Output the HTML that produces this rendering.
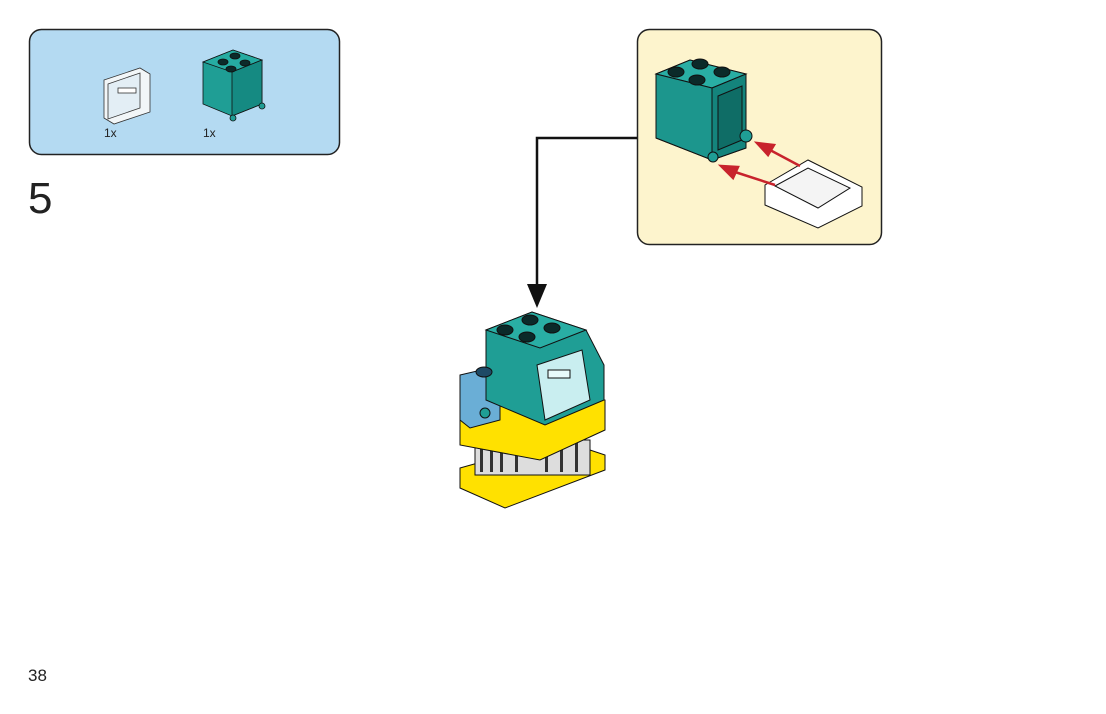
<!DOCTYPE html>
<html><head><meta charset="utf-8"><style>
html,body{margin:0;padding:0;background:#fff;}
body{width:1106px;height:709px;overflow:hidden;font-family:"Liberation Sans",sans-serif;}
</style></head><body>
<svg width="1106" height="709" viewBox="0 0 1106 709" xmlns="http://www.w3.org/2000/svg">
<rect x="29.5" y="29.5" width="310" height="125" rx="12" fill="#b4daf2" stroke="#222" stroke-width="1.5"/>
<g stroke="#333" stroke-width="0.8">
<polygon points="104,80 140,68 150,74 150,112 114,124 104,118" fill="#f2f6f8"/>
<polygon points="108,84 140,73 140,108 108,119" fill="#e3eef5"/>
<rect x="118" y="88" width="18" height="5" fill="#fff"/>
</g>
<g stroke="#111" stroke-width="0.8">
<polygon points="203,62 233,50 262,60 262,104 232,116 203,104" fill="#1f9e95"/>
<polygon points="203,62 233,50 262,60 232,72" fill="#26aca2"/>
<polygon points="232,72 262,60 262,104 232,116" fill="#158a82"/>
<ellipse cx="223" cy="62" rx="5" ry="3" fill="#0c2b2a"/>
<ellipse cx="235" cy="56" rx="5" ry="3" fill="#0c2b2a"/>
<ellipse cx="231" cy="69" rx="5" ry="3" fill="#0c2b2a"/>
<ellipse cx="245" cy="63" rx="5" ry="3" fill="#0c2b2a"/>
<circle cx="233" cy="118" r="3" fill="#1f9e95"/>
<circle cx="262" cy="106" r="3" fill="#1f9e95"/>
</g>
<text x="104" y="137" font-size="12" fill="#222">1x</text>
<text x="203" y="137" font-size="12" fill="#222">1x</text>
<text x="28" y="213" font-size="44" fill="#222">5</text>
<text x="28" y="681" font-size="17" fill="#222">38</text>
<rect x="637.5" y="29.5" width="244" height="215" rx="12" fill="#fdf4cd" stroke="#222" stroke-width="1.5"/>
<g stroke="#111" stroke-width="1">
<polygon points="656,74 690,60 746,74 746,148 712,160 656,138" fill="#1f9e95"/>
<polygon points="656,74 690,60 746,74 712,88" fill="#29aea4"/>
<polygon points="656,74 712,88 712,160 656,138" fill="#1c968d"/>
<polygon points="712,88 746,74 746,148 712,160" fill="#14847c"/>
<polygon points="718,96 742,86 742,140 718,150" fill="#0f6d66"/>
<ellipse cx="676" cy="72" rx="8" ry="5" fill="#0b2a29"/>
<ellipse cx="700" cy="64" rx="8" ry="5" fill="#0b2a29"/>
<ellipse cx="697" cy="80" rx="8" ry="5" fill="#0b2a29"/>
<ellipse cx="722" cy="72" rx="8" ry="5" fill="#0b2a29"/>
<circle cx="713" cy="157" r="5" fill="#1f9e95"/>
<circle cx="746" cy="136" r="6" fill="#1f9e95"/>
<polygon points="765,185 808,160 862,187 862,206 818,228 765,205" fill="#fff"/>
<polygon points="775,186 808,168 850,188 818,208" fill="#f4f4f4"/>
</g>
<g stroke="#c8232c" stroke-width="2.5" fill="#c8232c">
<line x1="800" y1="166" x2="770" y2="150"/><polygon points="757,143 774,145 768,155"/>
<line x1="775" y1="185" x2="735" y2="172"/><polygon points="721,166 738,167 733,178"/>
</g>
<polyline points="637,138 537,138 537,295" fill="none" stroke="#111" stroke-width="2.5"/>
<polygon points="527,284 547,284 537,308" fill="#111"/>
<g stroke="#111" stroke-width="1">
<polygon points="460,468 560,440 605,455 605,470 505,508 460,488" fill="#ffe100"/>
<rect x="475" y="440" width="115" height="35" fill="#ddd"/>
<g stroke="none" fill="#333">
<rect x="480" y="442" width="3" height="30"/><rect x="490" y="442" width="3" height="30"/><rect x="500" y="442" width="3" height="30"/><rect x="515" y="442" width="3" height="30"/><rect x="545" y="442" width="3" height="30"/><rect x="560" y="442" width="3" height="30"/><rect x="575" y="442" width="3" height="30"/>
</g>
<polygon points="460,410 540,390 605,400 605,430 540,460 460,445" fill="#ffe100"/>
<polygon points="460,375 490,368 500,380 500,420 470,428 460,420" fill="#6aaed6"/>
<polygon points="486,330 532,312 586,330 604,365 604,400 545,425 486,400" fill="#1f9e95"/>
<polygon points="486,330 532,312 586,330 540,348" fill="#29aea4"/>
<ellipse cx="505" cy="330" rx="8" ry="5" fill="#0b2a29"/>
<ellipse cx="530" cy="320" rx="8" ry="5" fill="#0b2a29"/>
<ellipse cx="527" cy="337" rx="8" ry="5" fill="#0b2a29"/>
<ellipse cx="552" cy="328" rx="8" ry="5" fill="#0b2a29"/>
<ellipse cx="484" cy="372" rx="8" ry="5" fill="#1e4a66"/>
<polygon points="537,365 582,350 590,400 545,420" fill="#c9eef0"/>
<rect x="548" y="370" width="22" height="8" fill="#e8fafa"/>
<circle cx="485" cy="413" r="5" fill="#1f9e95"/>
</g>
</svg>
</body></html>
